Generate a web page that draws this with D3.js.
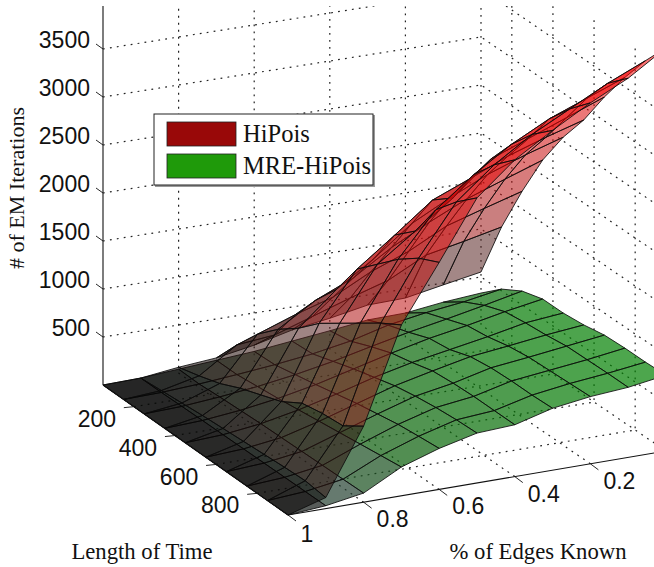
<!DOCTYPE html>
<html>
<head>
<meta charset="utf-8">
<script src="https://cdn.jsdelivr.net/npm/d3@7"></script>
<style>
  html, body { margin: 0; padding: 0; background: #fff; }
</style>
</head>
<body>
<div id="chart"></div>
<script>
// rows follow timeValues, columns follow edgeValues
var timeValues = [50, 150, 250, 350, 450, 550, 650, 750, 850, 950];
var edgeValues = [1, 0.9, 0.8, 0.7, 0.6, 0.5, 0.4, 0.3, 0.2, 0.1, 0];

var hiPois = [
  [0,  10,  60,   95,  165,  260,  320,  395,  406,  480,  552],
  [0,  30, 120,  380,  420,  550,  680,  800, 1000, 1080, 1167],
  [0,  50, 190,  640,  780,  900, 1100, 1250, 1450, 1570, 1685],
  [0,  70, 290,  840, 1080, 1250, 1500, 1700, 1880, 2020, 2156],
  [0,  85, 370, 1000, 1340, 1600, 1900, 2100, 2280, 2420, 2540],
  [0, 100, 450, 1200, 1700, 1990, 2290, 2450, 2620, 2750, 2865],
  [0, 115, 583, 1350, 1900, 2180, 2460, 2800, 2950, 3100, 3250],
  [0, 130, 625, 1500, 2100, 2550, 2850, 3100, 3300, 3450, 3600],
  [0, 140, 646, 1650, 2260, 2780, 3100, 3350, 3550, 3750, 3920],
  [0, 115, 792, 1780, 2365, 2970, 3300, 3540, 3760, 3950, 4200]
];

var mreHiPois = [
  [0, 10, 40,  70, 100, 145, 190, 240, 250, 300, 333],
  [0, 10, 35,  70, 110, 160, 230, 333, 400, 450, 520],
  [0, 15, 50,  95, 155, 230, 320, 406, 480, 560, 645],
  [0, 18, 60, 120, 200, 300, 400, 490, 560, 640, 708],
  [0, 20, 70, 150, 250, 360, 450, 520, 590, 670, 708],
  [0, 22, 75, 180, 300, 420, 510, 594, 640, 690, 730],
  [0, 24, 80, 210, 340, 460, 530, 625, 670, 720, 770],
  [0, 26, 85, 240, 380, 490, 540, 635, 680, 725, 780],
  [0, 28, 90, 270, 405, 510, 540, 635, 690, 730, 780],
  [0, 30, 95, 300, 427, 520, 540, 645, 700, 730, 790]
];

var zTicks = [500, 1000, 1500, 2000, 2500, 3000, 3500];
var timeTicks = [200, 400, 600, 800];
var edgeTicks = [0.8, 0.6, 0.4, 0.2];
var legendLabels = ["HiPois", "MRE-HiPois"];

var width = 654, height = 567;

// the box is drawn with a slight perspective, so the floor is a bilinear patch
var u = d3.scaleLinear().domain([50, 950]).range([0, 1]);
var v = d3.scaleLinear().domain([1, 0]).range([0, 1]);
var z = d3.scaleLinear().domain([0, 500]).range([0, 48]);
var backX = d3.scaleLinear().domain([0, 1]).range([103, 481]);
var backY = d3.scaleLinear().domain([0, 1]).range([385, 325]);
var frontX = d3.scaleLinear().domain([0, 1]).range([288, 666]);
var frontY = d3.scaleLinear().domain([0, 1]).range([515, 451]);

function project(t, e, h) {
  var a = u(t), b = v(e);
  var x = backX(b) + (frontX(b) - backX(b)) * a;
  var y = backY(b) + (frontY(b) - backY(b)) * a;
  return [x, y - z(h)];
}

var redColor = d3.scaleLinear()
  .domain([0, 300, 550, 860, 1300, 2000, 4200])
  .range(["#000000", "#1e0a08", "#3c1a14", "#5c2525", "#9a1616", "#c01010", "#ff0000"]);
var greenColor = d3.scaleLinear()
  .domain([0, 60, 300, 800])
  .range(["#080808", "#254232", "#0a5a0a", "#008400"]);

var svg = d3.select("#chart").append("svg")
  .attr("width", width)
  .attr("height", height)
  .style("display", "block");

svg.append("clipPath").attr("id", "plot-clip")
  .append("rect").attr("x", 0).attr("y", 6).attr("width", width).attr("height", height - 6);

var plot = svg.append("g").attr("clip-path", "url(#plot-clip)");
var lineGen = d3.line();

// dotted grid on the two walls and the floor
var gridLines = [];
zTicks.forEach(function(h) {
  gridLines.push([project(50, 1, h), project(50, 0, h), project(950, 0, h)]);
});
edgeTicks.concat([0]).forEach(function(e) {
  gridLines.push([project(950, e, 0), project(50, e, 0), project(50, e, 4000)]);
});
timeTicks.forEach(function(t) {
  gridLines.push([project(t, 1, 0), project(t, 0, 0), project(t, 0, 4000)]);
});
gridLines.push([project(950, 0, 0), project(950, 0, 4000)]);

plot.append("g").selectAll("path")
  .data(gridLines)
  .enter().append("path")
  .attr("d", lineGen)
  .attr("fill", "none")
  .attr("stroke", "#222")
  .attr("stroke-width", 1.2)
  .attr("stroke-dasharray", "1.8 5.2");

function drawSurface(values, color, alpha, name) {
  var cells = [];
  d3.range(timeValues.length - 1).forEach(function(i) {
    d3.range(edgeValues.length - 1).forEach(function(j) {
      cells.push({i: i, j: j, h: d3.mean([values[i][j], values[i + 1][j], values[i][j + 1], values[i + 1][j + 1]])});
    });
  });
  // back to front as seen from the (950, 1) corner
  cells.sort(function(a, b) { return (a.i - a.j) - (b.i - b.j); });

  plot.append("g").attr("class", name).selectAll("path")
    .data(cells)
    .enter().append("path")
    .attr("d", function(d) {
      var i = d.i, j = d.j;
      return lineGen([
        project(timeValues[i], edgeValues[j], values[i][j]),
        project(timeValues[i + 1], edgeValues[j], values[i + 1][j]),
        project(timeValues[i + 1], edgeValues[j + 1], values[i + 1][j + 1]),
        project(timeValues[i], edgeValues[j + 1], values[i][j + 1])
      ]) + "Z";
    })
    .attr("fill", function(d) { return color(d.h); })
    .attr("fill-opacity", alpha)
    .attr("stroke", "#0c0c0c")
    .attr("stroke-width", 0.85)
    .attr("stroke-linejoin", "round");
}

drawSurface(mreHiPois, greenColor, 0.7, "mre");
drawSurface(hiPois, redColor, 0.55, "hipois");

// axes
var axisLines = [
  [project(50, 1, 0), project(50, 1, 3950)],
  [project(50, 1, 0), project(950, 1, 0)],
  [project(950, 1, 0), project(950, 0, 0)]
];
plot.append("g").selectAll("path")
  .data(axisLines)
  .enter().append("path")
  .attr("d", lineGen)
  .attr("fill", "none")
  .attr("stroke", "#111")
  .attr("stroke-width", 1.1);

var sans = "'Liberation Sans', Arial, sans-serif";
var serif = "'Liberation Serif', 'Times New Roman', serif";

function tick(p, dx, dy) {
  plot.append("line")
    .attr("x1", p[0]).attr("y1", p[1])
    .attr("x2", p[0] + dx).attr("y2", p[1] + dy)
    .attr("stroke", "#111")
    .attr("stroke-width", 0.9);
}

function tickLabel(p, txt, dx, dy, anchor) {
  svg.append("text")
    .attr("x", p[0] + dx)
    .attr("y", p[1] + dy)
    .attr("text-anchor", anchor)
    .attr("dominant-baseline", "middle")
    .style("font-family", sans)
    .style("font-size", "23px")
    .style("fill", "#111")
    .text(txt);
}

zTicks.forEach(function(h) {
  var p = project(50, 1, h);
  tick(p, -7, -5);
  tickLabel(p, h, -13, -7, "end");
});
timeTicks.forEach(function(t) {
  var p = project(t, 1, 0);
  tick(p, -10, 1);
  tickLabel(p, t, -37, 14, "middle");
});
edgeTicks.concat([1]).forEach(function(e) {
  var p = project(950, e, 0);
  tick(p, 8, 6);
  tickLabel(p, e, e === 1 ? 19 : 29, e === 1 ? 21 : 19, "middle");
});

function axisTitle(x, y, txt, size, rotate) {
  svg.append("text")
    .attr("transform", "translate(" + x + "," + y + ")" + (rotate ? " rotate(-90)" : ""))
    .attr("text-anchor", "middle")
    .style("font-family", serif)
    .style("font-size", size + "px")
    .style("fill", "#111")
    .text(txt);
}

axisTitle(142, 559, "Length of Time", 22.7);
axisTitle(538, 559, "% of Edges Known", 22.7);
axisTitle(24, 188, "# of EM Iterations", 22, true);

// legend
var legend = svg.append("g").attr("transform", "translate(154,114)");
legend.append("rect")
  .attr("x", 1).attr("y", 1).attr("width", 220).attr("height", 72)
  .attr("fill", "#999");
legend.append("rect")
  .attr("width", 219).attr("height", 71)
  .attr("fill", "#fff")
  .attr("stroke", "#222")
  .attr("stroke-width", 1);
var legendItem = legend.selectAll(".item")
  .data(legendLabels)
  .enter().append("g")
  .attr("class", "item")
  .attr("transform", function(d, i) { return "translate(13," + (8 + i * 32) + ")"; });
legendItem.append("rect")
  .attr("width", 69).attr("height", 24)
  .attr("fill", function(d, i) { return i === 0 ? "#990808" : "#1f9a0a"; })
  .attr("stroke", "#222")
  .attr("stroke-width", 0.8);
legendItem.append("text")
  .attr("x", 76)
  .attr("y", 20)
  .style("font-family", serif)
  .style("font-size", "24.5px")
  .style("fill", "#111")
  .text(function(d) { return d; });
</script>
</body>
</html>
